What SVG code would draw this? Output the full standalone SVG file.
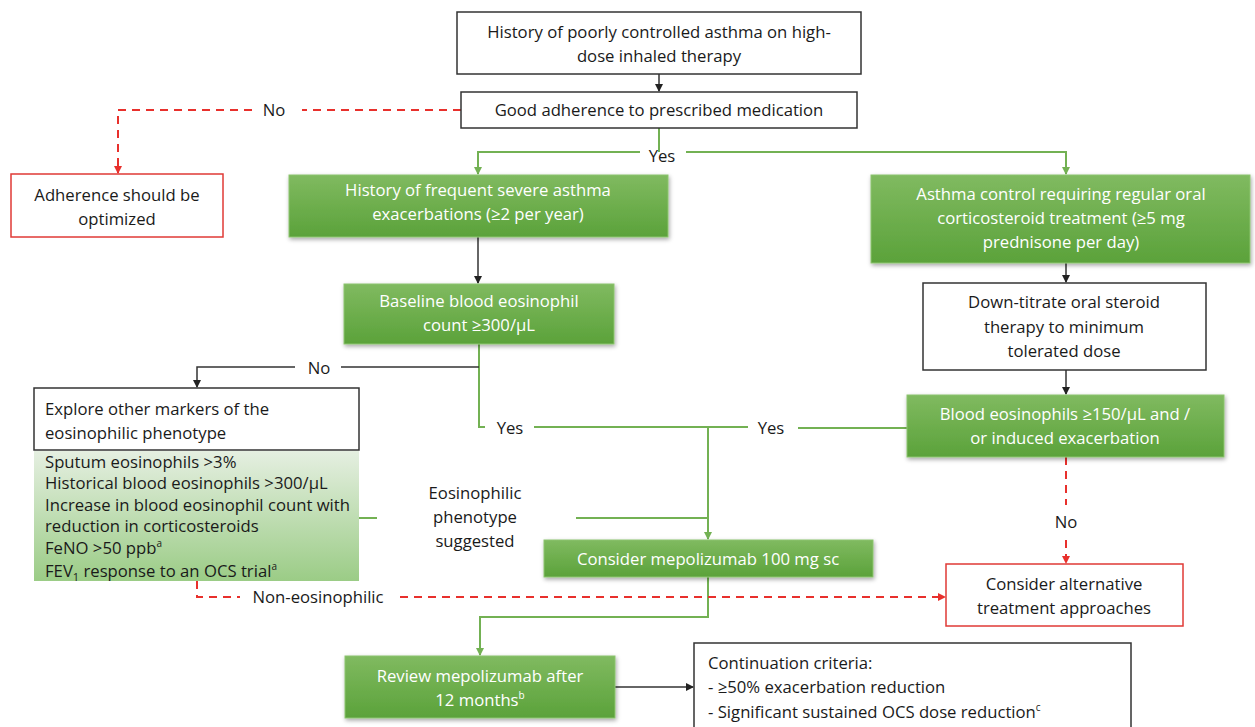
<svg xmlns="http://www.w3.org/2000/svg" width="1255" height="727" viewBox="0 0 1255 727">
<defs>
<style>
text{font-family:"Open Sans","Liberation Sans",sans-serif;font-size:16.7px;fill:#1a1a1a}
.c{text-anchor:middle}
.w{fill:#ffffff}
.bw{fill:#ffffff;stroke:#333;stroke-width:1.5}
.rb{fill:#ffffff;stroke:#e03a36;stroke-width:1.5}
.gb{fill:url(#g);stroke:#8cc46e;stroke-width:1}
.gl{fill:none;stroke:#73b153;stroke-width:2}
.bl{fill:none;stroke:#333;stroke-width:1.5}
.rl{fill:none;stroke:#e8302c;stroke-width:2;stroke-dasharray:8 6}
</style>
<linearGradient id="g" x1="0" y1="0" x2="0" y2="1">
<stop offset="0" stop-color="#80ba60"/>
<stop offset="1" stop-color="#5ba23a"/>
</linearGradient>
<linearGradient id="lg" x1="0" y1="0" x2="0" y2="1">
<stop offset="0" stop-color="#e5efe1"/>
<stop offset="1" stop-color="#9bcc86"/>
</linearGradient>
<filter id="sh" x="-10%" y="-20%" width="120%" height="160%">
<feDropShadow dx="1" dy="2" stdDeviation="2" flood-color="#000" flood-opacity="0.35"/>
</filter>
<marker id="ak" markerWidth="8" markerHeight="8" refX="7" refY="4" orient="auto" markerUnits="userSpaceOnUse"><path d="M0,0 L8,4 L0,8 z" fill="#222"/></marker>
<marker id="ag" markerWidth="8" markerHeight="8" refX="7" refY="4" orient="auto" markerUnits="userSpaceOnUse"><path d="M0,0 L8,4 L0,8 z" fill="#73b153"/></marker>
<marker id="ar" markerWidth="8" markerHeight="8" refX="7" refY="4" orient="auto" markerUnits="userSpaceOnUse"><path d="M0,0 L8,4 L0,8 z" fill="#e8302c"/></marker>
</defs>
<rect width="1255" height="727" fill="#ffffff"/>

<g id="connectors">
<path class="bl" d="M659,74 V91" marker-end="url(#ak)"/>
<path class="rl" d="M461,110 H302 M252,110 H118 V173" marker-end="url(#ar)"/>
<path class="gl" d="M659,128 V152 M640,152 H478 V174" marker-end="url(#ag)"/>
<path class="gl" d="M686,152 H1066 V174" marker-end="url(#ag)"/>
<path class="bl" d="M478,237 V283" marker-end="url(#ak)"/>
<path class="bl" d="M1066,263 V282" marker-end="url(#ak)"/>
<path class="bl" d="M1066,370 V394" marker-end="url(#ak)"/>
<path class="gl" d="M479,344 V427 H485 M534,427 H748 M798,428 H907"/>
<path class="bl" d="M479,367 H341 M295,367 H197 V387" marker-end="url(#ak)"/>
<path class="gl" d="M359,518 H377 M576,518 H708"/>
<path class="gl" d="M708,427 V539" marker-end="url(#ag)"/>
<path class="gl" d="M708,577 V617 H480 V655" marker-end="url(#ag)"/>
<path class="bl" d="M615,687 H693" marker-end="url(#ak)"/>
<path class="rl" d="M197,581 V597 H240 M400,597 H945" marker-end="url(#ar)"/>
<path class="rl" d="M1066,457 V505 M1066,540 V563" marker-end="url(#ar)"/>
<text x="274" y="116" class="c">No</text>
<text x="662" y="162" class="c">Yes</text>
<text x="319" y="374" class="c">No</text>
<text x="510" y="434" class="c">Yes</text>
<text x="771" y="434" class="c">Yes</text>
<text x="1066" y="528" class="c">No</text>
<text x="318" y="603" class="c">Non-eosinophilic</text>
<text x="475" y="499" class="c">Eosinophilic</text>
<text x="475" y="523" class="c">phenotype</text>
<text x="475" y="547" class="c">suggested</text>
</g>

<g id="n1">
<rect x="457" y="12" width="404" height="62" class="bw"/>
<text x="659" y="38" class="c">History of poorly controlled asthma on high-</text>
<text x="659" y="62" class="c">dose inhaled therapy</text>
</g>
<g id="n2">
<rect x="461" y="92" width="396" height="36" class="bw"/>
<text x="659" y="116" class="c">Good adherence to prescribed medication</text>
</g>
<g id="n3">
<rect x="11" y="174" width="212" height="63" class="rb"/>
<text x="117" y="201" class="c">Adherence should be</text>
<text x="117" y="225" class="c">optimized</text>
</g>
<g id="n4">
<rect x="289" y="175" width="379" height="62" class="gb" filter="url(#sh)"/>
<text x="478" y="196" class="c w">History of frequent severe asthma</text>
<text x="478" y="220" class="c w">exacerbations (≥2 per year)</text>
</g>
<g id="n5">
<rect x="871" y="175" width="379" height="88" class="gb" filter="url(#sh)"/>
<text x="1061" y="200" class="c w">Asthma control requiring regular oral</text>
<text x="1061" y="224" class="c w">corticosteroid treatment (≥5 mg</text>
<text x="1061" y="248" class="c w">prednisone per day)</text>
</g>
<g id="n6">
<rect x="344" y="284" width="270" height="60" class="gb" filter="url(#sh)"/>
<text x="479" y="307" class="c w">Baseline blood eosinophil</text>
<text x="479" y="331" class="c w">count ≥300/μL</text>
</g>
<g id="n7">
<rect x="923" y="283" width="283" height="87" class="bw"/>
<text x="1064" y="308" class="c">Down-titrate oral steroid</text>
<text x="1064" y="333" class="c">therapy to minimum</text>
<text x="1064" y="357" class="c">tolerated dose</text>
</g>
<g id="n8">
<rect x="907" y="395" width="317" height="62" class="gb" filter="url(#sh)"/>
<text x="1065" y="420" class="c w">Blood eosinophils ≥150/μL and /</text>
<text x="1065" y="444" class="c w">or induced exacerbation</text>
</g>
<g id="n9">
<rect x="34" y="388" width="325" height="62" class="bw"/>
<text x="45" y="415">Explore other markers of the</text>
<text x="45" y="439">eosinophilic phenotype</text>
</g>
<g id="n10">
<rect x="34" y="451" width="325" height="130" fill="url(#lg)"/>
<text x="45" y="468">Sputum eosinophils &gt;3%</text>
<text x="45" y="489">Historical blood eosinophils &gt;300/μL</text>
<text x="45" y="511">Increase in blood eosinophil count with</text>
<text x="45" y="532">reduction in corticosteroids</text>
<text x="45" y="554">FeNO &gt;50 ppb<tspan font-size="10" dy="-7">a</tspan></text>
<text x="45" y="577">FEV<tspan font-size="11" dy="4">1</tspan><tspan dy="-4"> response to an OCS trial</tspan><tspan font-size="10" dy="-7">a</tspan></text>
</g>
<g id="n11">
<rect x="544" y="540" width="329" height="37" class="gb" filter="url(#sh)"/>
<text x="708" y="565" class="c w">Consider mepolizumab 100 mg sc</text>
</g>
<g id="n12">
<rect x="946" y="564" width="237" height="62" class="rb"/>
<text x="1064" y="590" class="c">Consider alternative</text>
<text x="1064" y="614" class="c">treatment approaches</text>
</g>
<g id="n13">
<rect x="345" y="656" width="270" height="62" class="gb" filter="url(#sh)"/>
<text x="480" y="682" class="c w">Review mepolizumab after</text>
<text x="480" y="706" class="c w">12 months<tspan font-size="10" dy="-7">b</tspan></text>
</g>
<g id="n14">
<rect x="694" y="643" width="437" height="90" class="bw"/>
<text x="708" y="669">Continuation criteria:</text>
<text x="708" y="693">- ≥50% exacerbation reduction</text>
<text x="708" y="718">- Significant sustained OCS dose reduction<tspan font-size="10" dy="-7">c</tspan></text>
</g>
</svg>
